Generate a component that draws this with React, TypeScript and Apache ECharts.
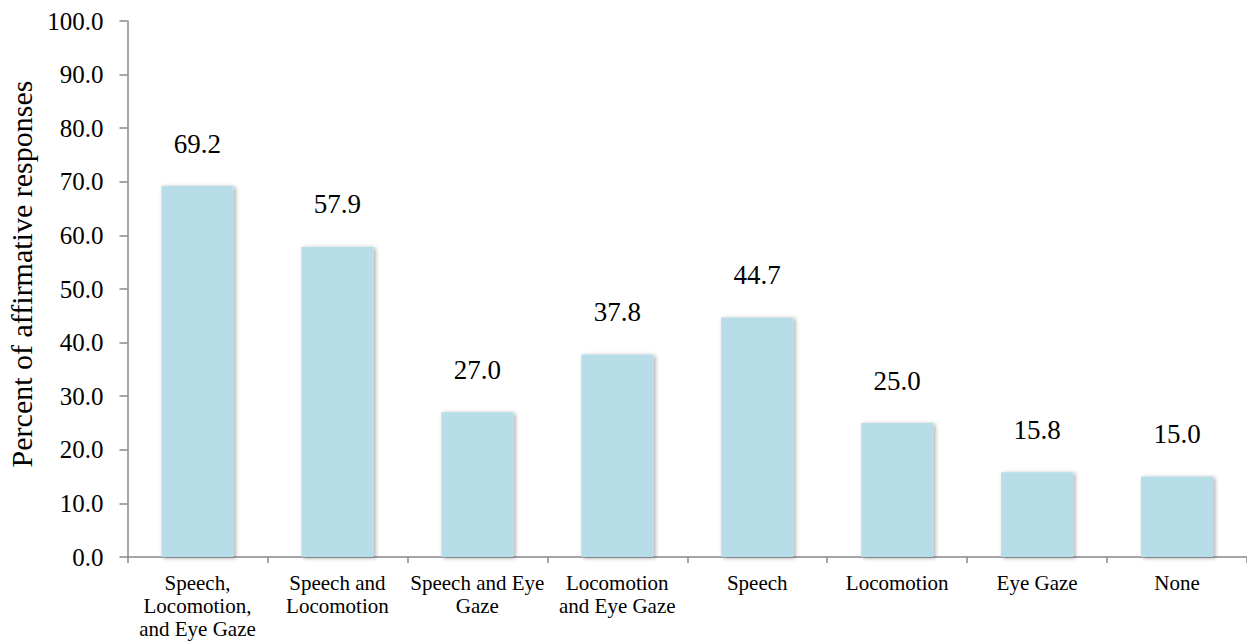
import React, { useEffect, useRef } from "react";
import * as echarts from "echarts";

const categories = [
  "Speech,\nLocomotion,\nand Eye Gaze",
  "Speech and\nLocomotion",
  "Speech and Eye\nGaze",
  "Locomotion\nand Eye Gaze",
  "Speech",
  "Locomotion",
  "Eye Gaze",
  "None",
];
const values = [69.2, 57.9, 27.0, 37.8, 44.7, 25.0, 15.8, 15.0];
const yAxisTitle = "Percent of affirmative responses";

const FONT = "'Liberation Serif', 'Times New Roman', serif";

export default function App() {
  const ref = useRef<HTMLDivElement>(null);
  useEffect(() => {
    if (!ref.current) return;
    const chart = echarts.init(ref.current, null, { renderer: "svg" });
    chart.setOption({
      animation: false,
      backgroundColor: "#ffffff",
      grid: { left: 127.5, right: 0, top: 21, bottom: 86, containLabel: false },
      graphic: [
        {
          type: "text",
          x: 21,
          y: 274,
          rotation: Math.PI / 2,
          style: {
            text: yAxisTitle,
            fontFamily: FONT,
            fontSize: 30,
            fill: "#000000",
            textAlign: "center",
            textVerticalAlign: "middle",
          },
        },
      ],
      xAxis: {
        type: "category",
        data: categories,
        axisLine: { show: true, lineStyle: { color: "#898989", width: 1.5 } },
        axisTick: { show: true, length: 6, lineStyle: { color: "#898989", width: 1.5 } },
        axisLabel: {
          interval: 0,
          margin: 14,
          fontFamily: FONT,
          fontSize: 21,
          lineHeight: 23,
          color: "#000000",
          align: "center",
        },
      },
      yAxis: {
        type: "value",
        min: 0,
        max: 100,
        interval: 10,
        axisLine: { show: true, lineStyle: { color: "#898989", width: 1.5 } },
        axisTick: { show: true, length: 8, lineStyle: { color: "#898989", width: 1.5 } },
        splitLine: { show: false },
        axisLabel: {
          margin: 24,
          fontFamily: FONT,
          fontSize: 25,
          color: "#000000",
          formatter: (v: number) => v.toFixed(1),
        },
      },
      series: [
        {
          type: "bar",
          data: values,
          barWidth: 72,
          itemStyle: {
            color: "#b7dde8",
            shadowColor: "rgba(0,0,0,0.35)",
            shadowBlur: 4,
            shadowOffsetX: 2,
            shadowOffsetY: 1,
          },
          label: {
            show: true,
            position: "top",
            distance: 29,
            fontFamily: FONT,
            fontSize: 27,
            color: "#000000",
            formatter: (p: any) => Number(p.value).toFixed(1),
          },
        },
      ],
    });
    return () => chart.dispose();
  }, []);
  return (
    <div
      ref={ref}
      style={{ position: "fixed", left: 0, top: 0, width: 1247, height: 643, background: "#fff" }}
    />
  );
}
